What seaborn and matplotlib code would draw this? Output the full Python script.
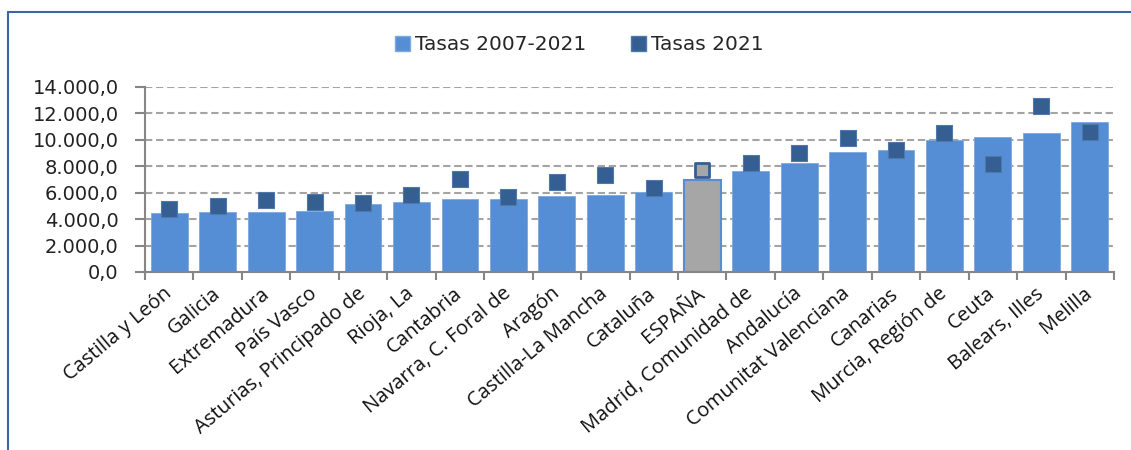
import numpy as np
import pandas as pd
import matplotlib
matplotlib.use("Agg")
import matplotlib.pyplot as plt
from matplotlib.lines import Line2D
from matplotlib.patches import Patch
import seaborn as sns

# ======== DATA ========
regions = ["Castilla y León", "Galicia", "Extremadura", "País Vasco",
           "Asturias, Principado de", "Rioja, La", "Cantabria",
           "Navarra, C. Foral de", "Aragón", "Castilla-La Mancha", "Cataluña",
           "ESPAÑA", "Madrid, Comunidad de", "Andalucía",
           "Comunitat Valenciana", "Canarias", "Murcia, Región de", "Ceuta",
           "Balears, Illes", "Melilla"]
tasas_2007_2021 = [4450, 4540, 4540, 4620, 5150, 5275, 5525, 5525, 5780, 5855,
                   6060, 6965, 7670, 8225, 9085, 9235, 9970, 10220, 10545, 11325]
tasas_2021 = [4750, 4970, 5450, 5275, 5200, 5830, 7060, 5650, 6835, 7370,
              6360, 7745, 8275, 8985, 10150, 9210, 10525, 8150, 12540, 10630]
yticks = [0, 2000, 4000, 6000, 8000, 10000, 12000, 14000]
ytick_labels = ["0,0", "2.000,0", "4.000,0", "6.000,0", "8.000,0",
                "10.000,0", "12.000,0", "14.000,0"]

BAR_BLUE = "#558ed5"
MARK_BLUE = "#355f93"
GREY = "#a6a6a6"
AXIS_GREY = "#868686"

df = pd.DataFrame({"region": regions, "t0721": tasas_2007_2021, "t21": tasas_2021})
is_total = df["region"] == "ESPAÑA"

# ======== FIGURE ========
sns.set_style("white")
plt.rcParams["font.family"] = ["DejaVu Sans"]

fig = plt.figure(figsize=(11.31, 4.5), dpi=100)
ax = fig.add_axes([0.1282, 0.3956, 0.8568, 0.4111])

bar_colors = {r: (GREY if r == "ESPAÑA" else BAR_BLUE) for r in regions}
sns.barplot(data=df, x="region", y="t0721", hue="region", palette=bar_colors,
            legend=False, width=0.76, saturation=1, ax=ax, zorder=2)
for patch, r in zip(ax.patches, regions):
    if r == "ESPAÑA":
        patch.set_edgecolor(BAR_BLUE)
        patch.set_linewidth(1.5)
    else:
        patch.set_edgecolor("#7fa8dd")
        patch.set_linewidth(0.6)

sns.scatterplot(data=df[~is_total], x="region", y="t21", marker="s", s=125,
                color=MARK_BLUE, edgecolor="#4f78ab", linewidth=0.8, ax=ax, zorder=3)
sns.scatterplot(data=df[is_total], x="region", y="t21", marker="s", s=100,
                color=GREY, edgecolor=MARK_BLUE, linewidth=2, ax=ax, zorder=3)

# ======== AXES ========
ax.set_xlim(-0.5, len(regions) - 0.5)
ax.set_ylim(0, 14000)
ax.set_yticks(yticks)
ax.set_yticklabels(ytick_labels, fontsize=14, color="#222222")
ax.set_xlabel("")
ax.set_ylabel("")

ax.set_xticks(range(len(regions)))
ax.set_xticklabels(regions, rotation=40, ha="right", va="center",
                   rotation_mode="anchor", fontsize=14.5, color="#111111",
                   family=["Open Sans", "DejaVu Sans"])
ax.tick_params(axis="x", which="major", bottom=True, length=0, pad=14)
ax.set_xticks(np.arange(-0.5, len(regions)), minor=True)
ax.tick_params(axis="x", which="minor", bottom=True, length=6, width=1.5,
               color=AXIS_GREY, direction="out")
ax.tick_params(axis="y", left=True, length=7, width=1.5, color=AXIS_GREY,
               direction="out", pad=12)

for side in ["top", "right"]:
    ax.spines[side].set_visible(False)
for side in ["left", "bottom"]:
    ax.spines[side].set_color(AXIS_GREY)
    ax.spines[side].set_linewidth(1.5)

for y in yticks[1:]:
    ax.axhline(y, color="#a4a4a4", lw=1.5, ls=(0, (3.5, 1.8)), zorder=1)

# ======== LEGEND ========
handles = [Patch(facecolor=BAR_BLUE, edgecolor="#7fa8dd", label="Tasas 2007-2021"),
           Patch(facecolor=MARK_BLUE, edgecolor="#4f78ab", label="Tasas 2021")]
fig.legend(handles=handles, loc="center", bbox_to_anchor=(0.512, 0.9), ncol=2,
           frameon=False, fontsize=14.5, handlelength=0.75, handleheight=0.75,
           handletextpad=0.25, columnspacing=2.2)

# ======== FRAME ========
fig.add_artist(Line2D([0.0075, 1.0], [0.973, 0.973], color="#3c67a3", lw=1.5,
                      transform=fig.transFigure))
fig.add_artist(Line2D([0.0075, 0.0075], [0.0, 0.973], color="#3c67a3", lw=1.5,
                      transform=fig.transFigure))

fig.savefig("out.png", dpi=100)
